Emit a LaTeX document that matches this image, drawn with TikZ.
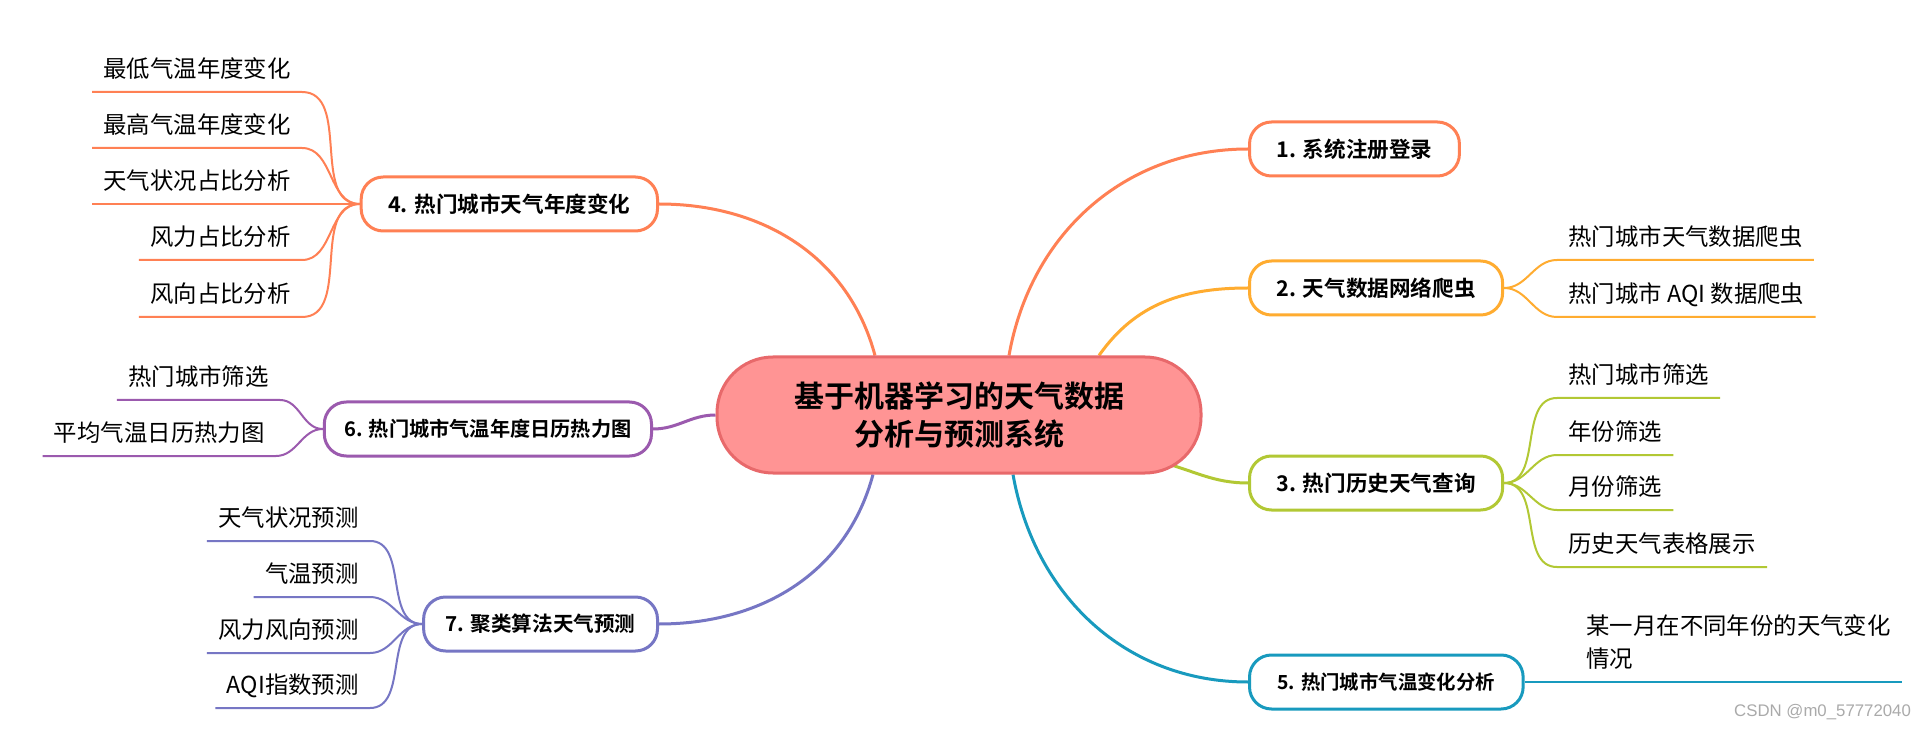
\documentclass[tikz,border=0pt]{standalone}
\usepackage{fontspec}
\setmainfont{Noto Sans CJK SC}[BoldFont={Noto Sans CJK SC Bold}]
\newfontfamily\markfont{Liberation Sans}
\usetikzlibrary{backgrounds}
\definecolor{hubfill}{RGB}{255,148,148}
\definecolor{hubline}{RGB}{232,105,107}
\definecolor{wxcoral}{RGB}{255,128,84}
\definecolor{wxorange}{RGB}{255,172,48}
\definecolor{wxlime}{RGB}{178,200,52}
\definecolor{wxteal}{RGB}{24,154,190}
\definecolor{wxpurple}{RGB}{155,90,174}
\definecolor{wxviolet}{RGB}{118,118,196}
\definecolor{wxmark}{RGB}{170,170,170}
\begin{document}
\begin{tikzpicture}[x=0.5pt, y=-0.5pt, line cap=round, line join=round,
  hub/.style={draw=hubline, fill=hubfill, line width=1.5pt, rounded corners=28pt,
    minimum width=242pt, minimum height=58pt, align=center,
    font=\bfseries\fontsize{15}{19}\selectfont},
  branch/.style={draw=#1, fill=white, line width=1.5pt, rounded corners=11pt,
    minimum height=27pt, inner xsep=13.5pt, font=\bfseries\fontsize{10.8}{13}\selectfont},
  leaf/.style={inner xsep=5.5pt, inner ysep=5.5pt, text depth=1.4pt,
    font=\fontsize{11.7}{16.5}\selectfont},
  leafline/.style={leaf, text height=10.3pt},
  link/.style={draw=#1, line width=1.5pt},
  twig/.style={draw=#1, line width=1pt}]
% canvas in reference pixels
\useasboundingbox (0,0) rectangle (1932,732);
% Centre
\node[hub] (hub) at (959,415) {基于机器学习的天气数据\\分析与预测系统};
% Right branches
\node[branch=wxcoral, anchor=west] (n1) at (1248,149) {1. 系统注册登录};
\node[branch=wxorange, anchor=west] (n2) at (1248,288) {2. 天气数据网络爬虫};
\node[branch=wxlime, anchor=west] (n3) at (1248,483) {3. 热门历史天气查询};
\node[branch=wxteal, anchor=west, inner xsep=14pt,
  font=\bfseries\fontsize{9.7}{12}\selectfont] (n5) at (1248,682) {5. 热门城市气温变化分析};
% Left branches
\node[branch=wxcoral, anchor=east] (n4) at (659,204) {4. 热门城市天气年度变化};
\node[branch=wxpurple, anchor=east, inner xsep=10pt,
  font=\bfseries\fontsize{10.1}{12}\selectfont] (n6) at (653,429) {6. 热门城市气温年度日历热力图};
\node[branch=wxviolet, anchor=east, inner xsep=11pt,
  font=\bfseries\fontsize{10.3}{12}\selectfont] (n7) at (659,624) {7. 聚类算法天气预测};
% Leaves, right side
\node[leafline, anchor=south west] (c21) at (1557,260) {热门城市天气数据爬虫};
\node[leafline, anchor=south west] (c22) at (1557,317) {热门城市 AQI 数据爬虫};
\node[leafline, anchor=south west] (c31) at (1557,398) {热门城市筛选};
\node[leafline, anchor=south west] (c32) at (1557,455) {年份筛选};
\node[leafline, anchor=south west] (c33) at (1557,510) {月份筛选};
\node[leafline, anchor=south west] (c34) at (1557,567) {历史天气表格展示};
\node[leaf, align=left, anchor=south west] (c51) at (1575,682) {某一月在不同年份的天气变化\\情况};
% Leaves, left side
\node[leafline, anchor=south east] (c41) at (302,92) {最低气温年度变化};
\node[leafline, anchor=south east] (c42) at (302,148) {最高气温年度变化};
\node[leafline, anchor=south east] (c43) at (302,204) {天气状况占比分析};
\node[leafline, anchor=south east] (c44) at (302,260) {风力占比分析};
\node[leafline, anchor=south east] (c45) at (302,317) {风向占比分析};
\node[leafline, anchor=south east] (c61) at (280,400) {热门城市筛选};
\node[leafline, anchor=south east] (c62) at (276,456) {平均气温日历热力图};
\node[leafline, anchor=south east] (c71) at (370,541) {天气状况预测};
\node[leafline, anchor=south east] (c72) at (370,597) {气温预测};
\node[leafline, anchor=south east] (c73) at (370,653) {风力风向预测};
\node[leafline, anchor=south east] (c74) at (370,708) {AQI指数预测};
% Watermark
\node[anchor=east, text=wxmark, font=\markfont\fontsize{8.4}{10}\selectfont] (mark) at (1918,712) {CSDN @m0\_57772040};
\begin{scope}[on background layer]
  % Paper
  \fill[white] (0,0) rectangle (1932,732);
  % Centre to branches
  \draw[link=wxcoral] ([xshift=25pt]hub.north) to[out=80,in=180] (n1.west);
  \draw[link=wxorange] ([xshift=70pt]hub.north) to[out=55,in=180] (n2.west);
  \draw[link=wxlime] ([xshift=-20pt,yshift=6pt]hub.south east) to[out=-15,in=180] (n3.west);
  \draw[link=wxteal] ([xshift=27pt]hub.south) to[out=-80,in=180] (n5.west);
  \draw[link=wxcoral] ([xshift=-42pt]hub.north) to[out=105,in=0] (n4.east);
  \draw[link=wxpurple] (hub.west) to[out=180,in=0] (n6.east);
  \draw[link=wxviolet] ([xshift=-43pt]hub.south) to[out=-105,in=0] (n7.east);
  % Branches to leaves
  \foreach \c in {c21,c22}
    \draw[twig=wxorange] (n2.east) to[out=0,in=180] (\c.south west) -- (\c.south east);
  \foreach \c in {c31,c32,c33,c34}
    \draw[twig=wxlime] (n3.east) to[out=0,in=180] (\c.south west) -- (\c.south east);
  \draw[twig=wxteal] (n5.east) -- (c51.south east);
  \foreach \c in {c41,c42,c43,c44,c45}
    \draw[twig=wxcoral] (n4.west) to[out=180,in=0] (\c.south east) -- (\c.south west);
  \foreach \c in {c61,c62}
    \draw[twig=wxpurple] (n6.west) to[out=180,in=0] (\c.south east) -- (\c.south west);
  \foreach \c in {c71,c72,c73,c74}
    \draw[twig=wxviolet] (n7.west) to[out=180,in=0] (\c.south east) -- (\c.south west);
\end{scope}
\end{tikzpicture}
\end{document}
